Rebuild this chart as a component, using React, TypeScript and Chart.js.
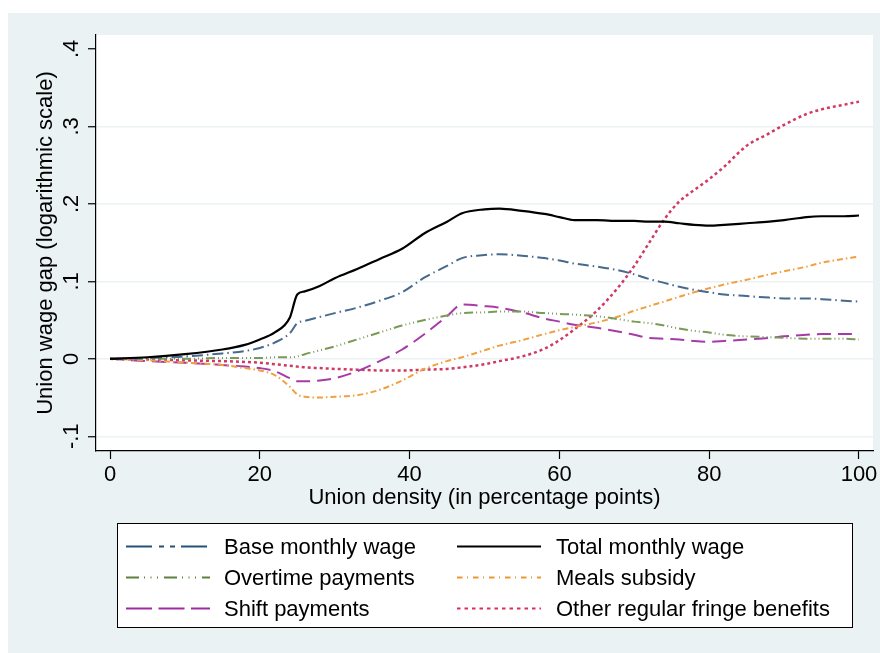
import React, { useEffect, useRef } from "react";
import { Chart, registerables } from "chart.js";

Chart.register(...registerables);

const density = [0, 5, 10, 15, 18, 20, 22, 24, 25, 26, 28, 30, 33, 36, 39, 42, 45, 47, 50, 52, 55, 58, 60, 62, 65, 68, 70, 72, 74, 76, 78, 80, 82, 85, 88, 90, 93, 95, 98, 100];

const baseMonthlyWage = [0, 0.001, 0.003, 0.007, 0.010, 0.014, 0.021, 0.033, 0.046, 0.049, 0.054, 0.059, 0.066, 0.075, 0.086, 0.105, 0.120, 0.130, 0.134, 0.135, 0.133, 0.130, 0.127, 0.123, 0.119, 0.114, 0.109, 0.103, 0.098, 0.093, 0.089, 0.086, 0.083, 0.081, 0.079, 0.078, 0.078, 0.077, 0.075, 0.074];
const totalMonthlyWage = [0, 0.002, 0.006, 0.012, 0.018, 0.025, 0.034, 0.053, 0.083, 0.087, 0.094, 0.104, 0.116, 0.129, 0.142, 0.162, 0.177, 0.188, 0.193, 0.194, 0.191, 0.187, 0.183, 0.179, 0.179, 0.178, 0.178, 0.177, 0.177, 0.175, 0.173, 0.172, 0.173, 0.175, 0.177, 0.179, 0.183, 0.184, 0.184, 0.185];
const overtimePayments = [0, 0, 0, 0.001, 0.001, 0.001, 0.002, 0.002, 0.003, 0.006, 0.011, 0.016, 0.025, 0.034, 0.043, 0.050, 0.056, 0.059, 0.060, 0.061, 0.061, 0.059, 0.058, 0.057, 0.055, 0.051, 0.048, 0.046, 0.043, 0.039, 0.036, 0.034, 0.031, 0.029, 0.028, 0.027, 0.026, 0.026, 0.026, 0.025];
const mealsSubsidy = [0, -0.002, -0.005, -0.008, -0.012, -0.015, -0.021, -0.036, -0.046, -0.049, -0.050, -0.049, -0.047, -0.040, -0.028, -0.013, -0.003, 0.002, 0.011, 0.017, 0.024, 0.032, 0.037, 0.041, 0.047, 0.055, 0.062, 0.068, 0.074, 0.080, 0.086, 0.091, 0.096, 0.102, 0.109, 0.113, 0.119, 0.124, 0.129, 0.132];
const shiftPayments = [0, -0.003, -0.005, -0.008, -0.010, -0.012, -0.016, -0.025, -0.029, -0.029, -0.028, -0.025, -0.016, -0.003, 0.012, 0.032, 0.055, 0.070, 0.068, 0.066, 0.060, 0.052, 0.048, 0.044, 0.040, 0.035, 0.031, 0.027, 0.026, 0.025, 0.023, 0.022, 0.023, 0.025, 0.027, 0.029, 0.031, 0.032, 0.032, 0.032];
const otherFringeBenefits = [0, -0.001, -0.002, -0.003, -0.004, -0.005, -0.007, -0.009, -0.010, -0.011, -0.012, -0.013, -0.014, -0.015, -0.015, -0.014, -0.013, -0.011, -0.007, -0.003, 0.003, 0.013, 0.024, 0.038, 0.062, 0.094, 0.120, 0.150, 0.180, 0.203, 0.218, 0.232, 0.248, 0.275, 0.291, 0.302, 0.316, 0.322, 0.328, 0.332];

const seriesLabels = ["Base monthly wage", "Total monthly wage", "Overtime payments", "Meals subsidy", "Shift payments", "Other regular fringe benefits"];

const xTicks = [0, 20, 40, 60, 80, 100];
const xTickLabels = ["0", "20", "40", "60", "80", "100"];
const yTicks = [-0.1, 0, 0.1, 0.2, 0.3, 0.4];
const yTickLabels = ["-.1", "0", ".1", ".2", ".3", ".4"];

const xTitle = "Union density (in percentage points)";
const yTitle = "Union wage gap (logarithmic scale)";

const FONT = '22px "Liberation Sans", Arial, sans-serif';
const BG = "#EAF2F3";

const styles = [
  { color: "#46698c", width: 2, dash: [11, 4, 1.5, 4], legendColor: "#24507a", legendDash: [26, 7, 5, 6, 5, 6] },
  { color: "#000000", width: 2.2, dash: [] as number[], legendColor: "#000000", legendDash: [] as number[] },
  { color: "#7a9a58", width: 2, dash: [9, 3, 1, 3, 1, 3, 1, 3], legendColor: "#5f8040", legendDash: [13, 5, 1, 5.5, 1, 5.5, 1, 6] },
  { color: "#f0a040", width: 2, dash: [6, 3, 1.5, 3], legendColor: "#f09530", legendDash: [5.5, 4.5, 1, 5] },
  { color: "#a83aa8", width: 2, dash: [14, 7], legendColor: "#a02ca0", legendDash: [26, 6.5] },
  { color: "#d03a62", width: 2.5, dash: [3, 3], legendColor: "#dc2d5a", legendDash: [3.5, 4] },
];

const seriesValues = [baseMonthlyWage, totalMonthlyWage, overtimePayments, mealsSubsidy, shiftPayments, otherFringeBenefits];

const bgPlugin = {
  id: "stataBg",
  beforeDraw(chart: any) {
    const { ctx, chartArea } = chart;
    ctx.save();
    ctx.fillStyle = "#ffffff";
    ctx.fillRect(0, 0, chart.width, chart.height);
    ctx.fillStyle = BG;
    ctx.fillRect(8, 13, chart.width - 8, chart.height - 13);
    ctx.fillStyle = "#ffffff";
    ctx.fillRect(chartArea.left, chartArea.top, chartArea.right - chartArea.left, chartArea.bottom - chartArea.top);
    ctx.restore();
  },
};

const textPlugin = {
  id: "stataText",
  afterDraw(chart: any) {
    const { ctx, chartArea } = chart;
    const xs = chart.scales.x;
    const ys = chart.scales.y;
    ctx.save();
    ctx.font = FONT;
    ctx.fillStyle = "#000";
    ctx.textBaseline = "alphabetic";
    ctx.textAlign = "center";
    xTicks.forEach((v, i) => {
      ctx.fillText(xTickLabels[i], xs.getPixelForValue(v), 481);
    });
    ctx.fillText(xTitle, (chartArea.left + chartArea.right) / 2, 504);
    yTicks.forEach((v, i) => {
      ctx.save();
      ctx.translate(78, ys.getPixelForValue(v));
      ctx.rotate(-Math.PI / 2);
      ctx.fillText(yTickLabels[i], 0, 0);
      ctx.restore();
    });
    ctx.save();
    ctx.translate(52, (chartArea.top + chartArea.bottom) / 2);
    ctx.rotate(-Math.PI / 2);
    ctx.fillText(yTitle, 0, 0);
    ctx.restore();

    const bx = 117.5, by = 523.5, bw = 735, bh = 104;
    ctx.fillStyle = "#fff";
    ctx.fillRect(bx, by, bw, bh);
    ctx.strokeStyle = "#000";
    ctx.lineWidth = 1;
    ctx.setLineDash([]);
    ctx.strokeRect(bx, by, bw, bh);
    const lineX = [[126, 210], [457, 541]];
    const textX = [224, 556];
    const baselines = [554, 585, 616];
    seriesLabels.forEach((label, i) => {
      const col = i % 2;
      const row = Math.floor(i / 2);
      const st = styles[i];
      const yMid = baselines[row] - 7.5;
      ctx.beginPath();
      ctx.strokeStyle = st.legendColor;
      ctx.lineWidth = 2;
      ctx.setLineDash(st.legendDash);
      ctx.moveTo(lineX[col][0], yMid);
      ctx.lineTo(lineX[col][1], yMid);
      ctx.stroke();
      ctx.setLineDash([]);
      ctx.fillStyle = "#000";
      ctx.textAlign = "left";
      ctx.fillText(label, textX[col], baselines[row]);
    });
    ctx.restore();
  },
};

export default function App() {
  const ref = useRef<HTMLCanvasElement | null>(null);
  useEffect(() => {
    if (!ref.current) return;
    const datasets = seriesLabels.map((label, i) => ({
      label,
      data: density.map((x, j) => ({ x, y: seriesValues[i][j] })),
      borderColor: styles[i].color,
      borderWidth: styles[i].width,
      borderDash: styles[i].dash,
      pointRadius: 0,
      fill: false,
      cubicInterpolationMode: "monotone" as const,
      order: i === 1 ? 0 : 1,
    }));
    const chart = new Chart(ref.current, {
      type: "line",
      data: { datasets },
      options: {
        responsive: false,
        animation: false,
        devicePixelRatio: 1,
        layout: { padding: { left: 0, top: 35, right: 7, bottom: 182 } },
        plugins: { legend: { display: false }, tooltip: { enabled: false } },
        scales: {
          x: {
            type: "linear",
            min: -1.87,
            max: 101.87,
            afterBuildTicks: (s: any) => {
              s.ticks = xTicks.map((v) => ({ value: v }));
            },
            afterFit: (s: any) => {
              s.height = 20;
            },
            ticks: { display: false },
            grid: { drawOnChartArea: false, drawTicks: true, tickLength: 8, tickColor: "#000", tickWidth: 1.2 },
            border: { display: true, color: "#000", width: 1.2 },
          },
          y: {
            type: "linear",
            min: -0.119,
            max: 0.418,
            afterBuildTicks: (s: any) => {
              s.ticks = yTicks.map((v) => ({ value: v }));
            },
            afterFit: (s: any) => {
              s.width = 96;
            },
            ticks: { display: false },
            grid: {
              color: (c: any) => (c.tick && c.tick.value > 0.35 ? "rgba(0,0,0,0)" : BG),
              lineWidth: 1.5,
              drawTicks: true,
              tickLength: 8,
              tickColor: "#000",
              tickWidth: 1.2,
            },
            border: { display: true, color: "#000", width: 1.2 },
          },
        },
      },
      plugins: [bgPlugin, textPlugin],
    } as any);
    return () => chart.destroy();
  }, []);
  return (
    <div style={{ position: "absolute", left: 0, top: 0, width: 880, height: 653 }}>
      <canvas ref={ref} width={880} height={653} style={{ width: 880, height: 653, display: "block" }} />
    </div>
  );
}
